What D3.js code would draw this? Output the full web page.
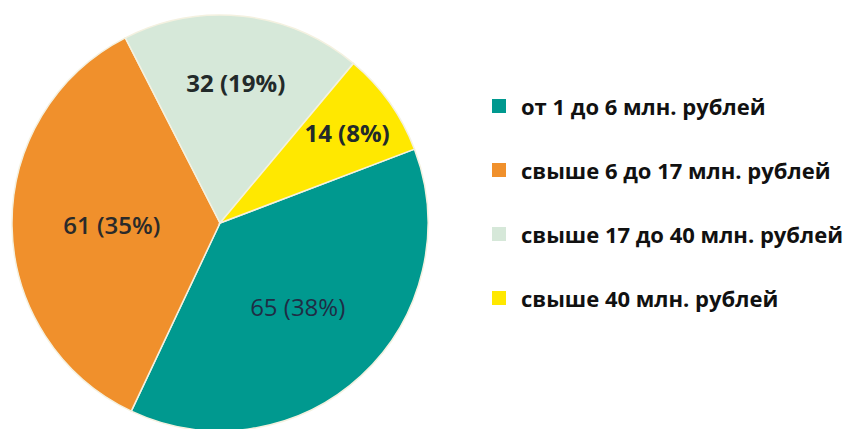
<!DOCTYPE html>
<html>
<head>
<meta charset="utf-8">
<script src="https://cdn.jsdelivr.net/npm/d3@7"></script>
<style>
  html, body { margin: 0; padding: 0; background: #ffffff; }
  svg { display: block; }
</style>
</head>
<body>
<svg id="chart" width="848" height="429"></svg>
<script>
// ---- data ----
const categories = [
  "от 1 до 6 млн. рублей",
  "свыше 6 до 17 млн. рублей",
  "свыше 17 до 40 млн. рублей",
  "свыше 40 млн. рублей"
];
const counts = [65, 61, 32, 14];
const percents = [38, 35, 19, 8];

// ---- styles ----
const colors = ["#00998f", "#f0902c", "#d6e8d9", "#ffe800"];
const labelWeights = [400, 600, 700, 700];
const labelColors = ["#1f2d45", "#2a2a2a", "#222a2a", "#222a2a"];
const labelRadiusFrac = [0.55, 0.52, 0.68, 0.75];

const svg = d3.select("#chart");
const W = 848, H = 429;
const cx = 220, cy = 223, R = 208;

const startA = 69.2 * Math.PI / 180;
const pie = d3.pie().sort(null).value(d => d.v)
  .startAngle(startA).endAngle(startA + 2 * Math.PI);
const data = categories.map((c, i) => ({ c, v: counts[i], p: percents[i], i }));
const arcs = pie(data);
const arc = d3.arc().innerRadius(0).outerRadius(R);

const g = svg.append("g").attr("transform", `translate(${cx},${cy})`);
g.selectAll("path.slice").data(arcs).enter().append("path")
  .attr("class", "slice")
  .attr("d", arc)
  .attr("fill", d => colors[d.data.i])
  .attr("stroke", "#f4f1e0")
  .attr("stroke-width", 1.5);

g.selectAll("text.lbl").data(arcs).enter().append("text")
  .attr("class", "lbl")
  .attr("transform", d => {
    const r = R * labelRadiusFrac[d.data.i];
    const a = (d.startAngle + d.endAngle) / 2;
    return `translate(${r * Math.sin(a)},${-r * Math.cos(a)})`;
  })
  .attr("text-anchor", "middle")
  .attr("dominant-baseline", "central")
  .attr("font-family", "'Open Sans', sans-serif")
  .attr("font-size", 24)
  .attr("font-weight", d => labelWeights[d.data.i])
  .attr("fill", d => labelColors[d.data.i])
  .text(d => `${d.data.v} (${d.data.p}%)`);

// ---- legend ----
const legendY = d3.scalePoint().domain(categories).range([106, 298]);
const lg = svg.append("g");
const items = lg.selectAll("g").data(data).enter().append("g")
  .attr("transform", d => `translate(492,${legendY(d.c)})`);
items.append("rect")
  .attr("x", 0).attr("y", -7).attr("width", 14).attr("height", 14)
  .attr("fill", d => colors[d.i]);
items.append("text")
  .attr("x", 29).attr("y", 0)
  .attr("dominant-baseline", "central")
  .attr("font-family", "'Open Sans', sans-serif")
  .attr("font-weight", 700)
  .attr("font-size", 22)
  .attr("fill", "#111")
  .text(d => d.c);
</script>
</body>
</html>
